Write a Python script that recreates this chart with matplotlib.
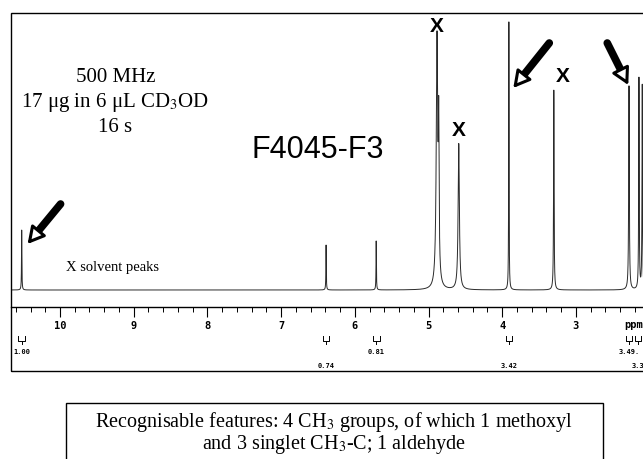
import numpy as np
import matplotlib
matplotlib.use("Agg")
import matplotlib.pyplot as plt
import matplotlib.transforms as mtransforms
from matplotlib.patches import Rectangle

plt.rcParams['font.family'] = ['Liberation Serif', 'DejaVu Serif']
plt.rcParams['mathtext.fontset'] = 'stix'

# peaks: shift (ppm), height (baseline = 0), half width (ppm)
peak_ppm = [10.52, 6.39, 5.71, 4.885, 4.862, 4.59, 3.91, 3.30, 2.28, 2.145, 2.10]
peak_height = [60, 45, 49, 250, 140, 146, 268, 200, 204, 211, 204]
peak_hw = [0.003, 0.003, 0.003, 0.012, 0.006, 0.010, 0.003, 0.004, 0.005, 0.004, 0.004]

# integrals under the scale
integ_ppm = [10.52, 6.39, 5.71, 3.91, 2.28, 2.16]
integ_text = ['1.00', '0.74', '0.81', '3.42', '3.49.', '3.3']
integ_row = [0, 1, 0, 1, 0, 1]

solvent_ppm = [4.885, 4.59, 3.30]
arrow_ppm = [10.44, 3.85, 2.29]
arrow_height = [46, 202, 205]
arrow_offset = [(33, 40), (36, 45), (-21, 42)]

W, H = 643, 459
fig = plt.figure(figsize=(W / 100, H / 100), dpi=100)

# outer frame around spectrum + scale
fig.add_artist(Rectangle((11 / W, 1 - 371 / H), 1.2, 358 / H, fill=False,
                         lw=1.0, ec='black', transform=fig.transFigure))

ax = fig.add_axes([11 / W, 1 - 307 / H, 1 - 11 / W, 294 / H])
ax.set_xlim(10.665, 2.09)
ax.set_ylim(-17, 277)

x = np.linspace(10.7, 2.0, 30000)
y = np.zeros_like(x)
for p, h, w in zip(peak_ppm, peak_height, peak_hw):
    y += h * w ** 2 / ((x - p) ** 2 + w ** 2)
ax.plot(x, y, color='#2a2a2a', lw=0.7)

for s in ['top', 'left', 'right']:
    ax.spines[s].set_visible(False)
ax.spines['bottom'].set_linewidth(1.0)
ax.set_yticks([])
ax.set_xticks(np.arange(3, 11))
ax.set_xticks(np.arange(2.2, 10.7, 0.2), minor=True)
ax.tick_params(axis='x', which='major', direction='out', length=7, width=0.8,
               pad=3, labelsize=7.5)
ax.tick_params(axis='x', which='minor', direction='out', length=3.5, width=0.7)
for lab in ax.get_xticklabels():
    lab.set_fontfamily('DejaVu Sans Mono')
    lab.set_fontweight('bold')

trans = mtransforms.blended_transform_factory(ax.transData, ax.transAxes)


def fy(ypx):
    return (307 - ypx) / 294


ax.text(2.34, fy(325), 'ppm', transform=trans, ha='left', va='center',
        fontsize=7.5, fontweight='bold', family='DejaVu Sans Mono', clip_on=False)

for p, t, r in zip(integ_ppm, integ_text, integ_row):
    hw = 0.045
    ax.plot([p - hw, p - hw, p + hw, p + hw], [fy(336), fy(341), fy(341), fy(336)],
            transform=trans, color='black', lw=0.7, clip_on=False)
    ax.plot([p, p], [fy(341), fy(344)], transform=trans, color='black', lw=0.7,
            clip_on=False)
    ax.text(p, fy(352 + 14 * r), t, transform=trans, ha='center', va='center',
            fontsize=5, family='DejaVu Sans Mono', fontweight='bold', clip_on=False)

# solvent markers
for p in solvent_ppm:
    h = peak_height[peak_ppm.index(p)]
    dx = 9 if p < 4 else 0
    ax.annotate('X', xy=(p, h), xytext=(dx, 4), textcoords='offset pixels',
                ha='center', va='bottom', fontsize=15, fontweight='bold',
                family='Liberation Sans')

# arrows: thick shaft, hollow head
for p, h, (dx, dy) in zip(arrow_ppm, arrow_height, arrow_offset):
    ax.annotate('', xy=(p, h), xytext=(dx, dy), textcoords='offset pixels',
                arrowprops=dict(arrowstyle='-', lw=5.5, color='black', shrinkA=0,
                                shrinkB=10))
    ax.annotate('', xy=(p, h), xytext=(dx * 0.45, dy * 0.45), textcoords='offset pixels',
                arrowprops=dict(arrowstyle='-|>,head_length=1.0,head_width=0.55',
                                lw=2.2, fc='white', ec='black', shrinkA=0, shrinkB=0),
                zorder=5)

# texts
ax.text(0.165, fy(78), '500 MHz', transform=ax.transAxes,
        ha='center', va='center', fontsize=15)
ax.text(0.165, fy(103), r'17 μg in 6 μL CD$_3$OD', transform=ax.transAxes,
        ha='center', va='center', fontsize=15)
ax.text(0.165, fy(128), '16 s', transform=ax.transAxes, ha='center', va='center',
        fontsize=15)
ax.text(0.485, fy(150), 'F4045-F3', transform=ax.transAxes, ha='center',
        va='center', fontsize=22, family='Liberation Sans')
ax.text(0.087, fy(268), 'X solvent peaks', transform=ax.transAxes, ha='left',
        va='center', fontsize=10.5)

# caption box
fig.add_artist(Rectangle((66 / W, 1 - 480 / H), 537 / W, 77 / H, fill=False,
                         lw=1.0, ec='black', transform=fig.transFigure))
fig.text(334 / W, 1 - 422 / H,
         r'Recognisable features: 4 CH$_3$ groups, of which 1 methoxyl',
         ha='center', va='center', fontsize=14.5)
fig.text(334 / W, 1 - 445 / H, r'and 3 singlet CH$_3$-C; 1 aldehyde',
         ha='center', va='center', fontsize=14.5)

fig.savefig('out.png', dpi=100)
